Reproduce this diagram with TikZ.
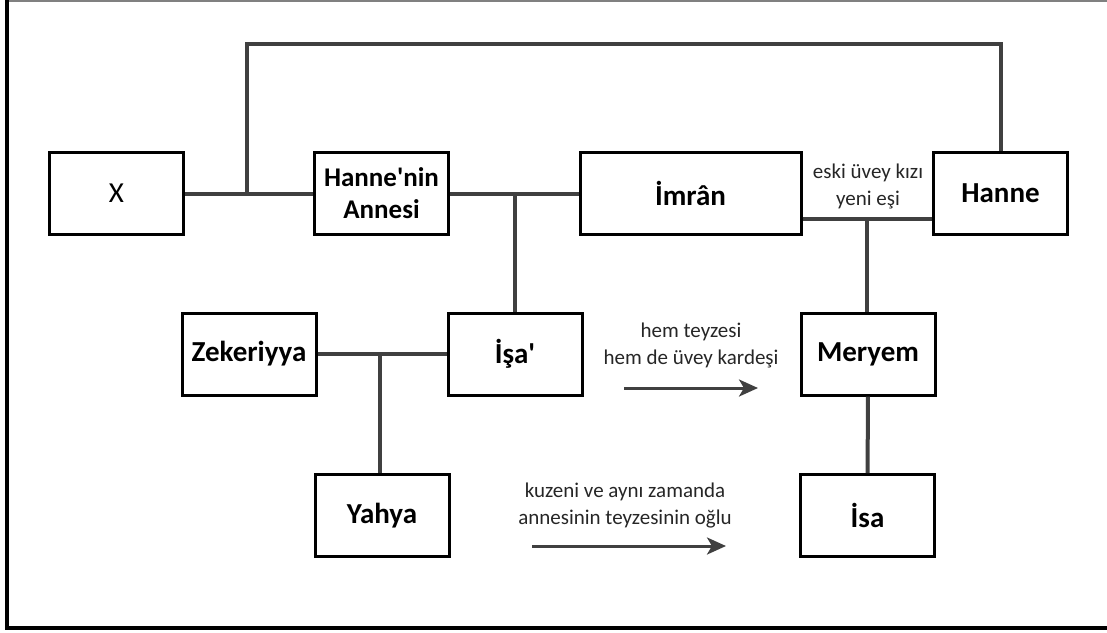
\documentclass[tikz,border=0pt]{standalone}
\usepackage{fontspec}
\newfontfamily\carl{Carlito}
\usetikzlibrary{arrows.meta}
\tikzset{
  person/.style={draw=black, line width=3pt, fill=white, minimum width=134pt, minimum height=82pt, inner sep=0pt, font=\carl\bfseries\fontsize{29}{32}\selectfont, align=center},
  link/.style={draw=black!75, line width=4pt},
  note/.style={font=\carl\fontsize{21}{27}\selectfont, align=center, inner sep=0pt, text=black!85},
  relarrow/.style={draw=black!75, line width=3pt, -{Stealth[length=19pt,width=17pt,inset=5pt]}}
}
\begin{document}
\begin{tikzpicture}[x=1pt,y=-1pt]
\useasboundingbox (0,0) rectangle (1107,632);
% frame
\draw[gray, line width=1.5pt] (7,0.75) -- (1107,0.75);
\draw[black, line width=3.5pt] (7,0) -- (7,628) -- (1107,628);

% nodes
\node[person] (X) at (116.5,193.5) {\mdseries X};
\node[person] (HA) at (381.5,193.5) {\fontsize{27}{32}\selectfont Hanne'nin\\\fontsize{27}{32}\selectfont Annesi};
\node[person, minimum width=221pt] (Imran) at (690.5,193.5) {İmrân};
\node[person] (Hanne) at (1000.5,193.5) {Hanne};
\node[person] (Zek) at (249,354) {Zekeriyya};
\node[person] (Isaa) at (515,354) {İşa'};
\node[person] (Meryem) at (868,354) {Meryem};
\node[person] (Yahya) at (382,515.5) {Yahya};
\node[person] (Isa) at (867.5,515.5) {İsa};

% junction coordinates
\coordinate (j1) at (247,193.5);
\coordinate (t1) at (247,44);
\coordinate (j2) at (515,193.5);
\coordinate (j3) at (867,219);
\coordinate (j4) at (380,354);

% connectors
\draw[link] (X) -- (HA);
\draw[link] (j1) -- (t1) -| (Hanne.north);
\draw[link] (HA) -- (Imran);
\draw[link] (j2) -- (Isaa);
\draw[link] ([yshift=-25.5pt]Imran.east) -- ([yshift=-25.5pt]Hanne.west);
\draw[link] (j3) -- (j3 |- Meryem.north);
\draw[link] (Meryem) -- (Isa);
\draw[link] (Zek) -- (Isaa);
\draw[link] (j4) -- (j4 |- Yahya.north);

% labels
\node[note] (lab1) at (868,186) {eski üvey kızı\\yeni eşi};
\node[note] (lab2) at (691,345) {hem teyzesi\\hem de üvey kardeşi};
\node[note] (lab3) at (625,506) {kuzeni ve aynı zamanda\\annesinin teyzesinin oğlu};

% arrows
\coordinate (a1s) at (624,388);
\coordinate (a1e) at (758,388);
\coordinate (a2s) at (532,546);
\coordinate (a2e) at (726,546);
\draw[relarrow] (a1s) -- (a1e);
\draw[relarrow] (a2s) -- (a2e);
\end{tikzpicture}
\end{document}
